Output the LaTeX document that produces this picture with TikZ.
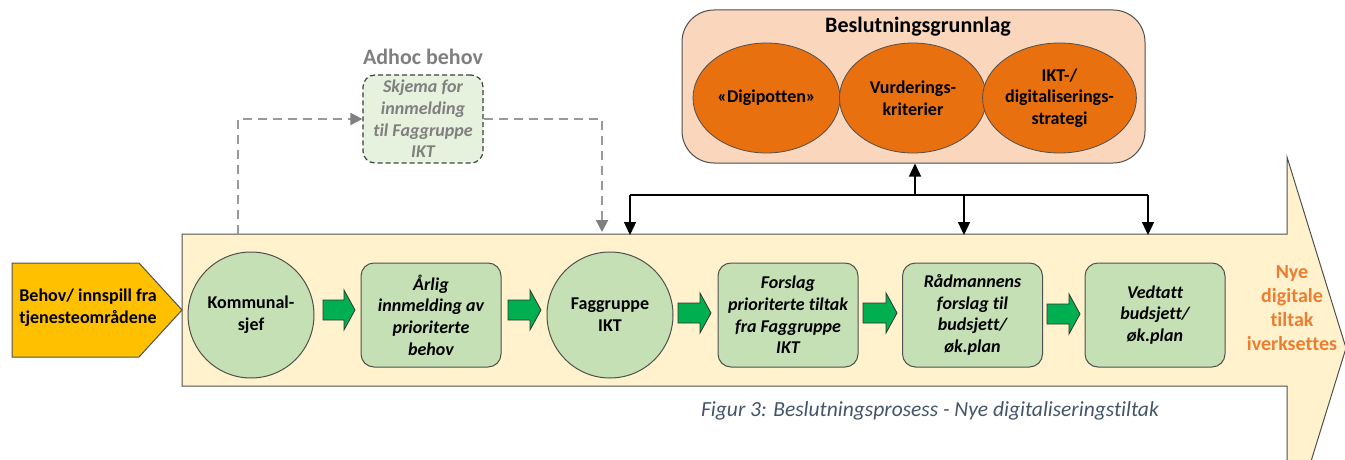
\documentclass[tikz,border=0pt]{standalone}
\usepackage{fontspec}
\setmainfont{Carlito}[Ligatures=NoCommon]
\usetikzlibrary{arrows.meta,shapes.geometric}
\definecolor{bodyfill}{HTML}{FFF2CC}
\definecolor{gfill}{HTML}{C5E0B4}
\definecolor{gline}{HTML}{505050}
\definecolor{garr}{HTML}{00B050}
\definecolor{goldc}{HTML}{FFC000}
\definecolor{peach}{HTML}{F9D6BC}
\definecolor{orng}{HTML}{E8700F}
\definecolor{orngtxt}{HTML}{ED7D31}
\definecolor{capt}{HTML}{44546A}
\definecolor{adgray}{HTML}{7F7F7F}
\definecolor{adline}{HTML}{999999}
\definecolor{adfill}{HTML}{E6F1DE}
\newcommand{\garw}[3]{\draw[garrow] (#1,#3-10) -- (#2-11,#3-10) -- (#2-11,#3-20) -- (#2,#3) -- (#2-11,#3+20) -- (#2-11,#3+10) -- (#1,#3+10) -- cycle;}
\tikzset{
  txt/.style={font=\fontsize{18}{21.7}\selectfont\bfseries, align=center, inner sep=0pt},
  gbox/.style={draw=gline, fill=gfill, rounded corners=13pt, line width=1pt, minimum width=140pt, minimum height=104pt, align=center, font=\fontsize{18}{21.7}\selectfont\bfseries\itshape, inner sep=2pt},
  gcirc/.style={circle, draw=gline, fill=gfill, line width=1pt, minimum size=126pt, align=center, font=\fontsize{18}{21.7}\selectfont\bfseries, inner sep=0pt},
  oell/.style={ellipse, draw=gline, fill=orng, line width=0.8pt, minimum width=147pt, minimum height=110pt, align=center, font=\fontsize{18}{21.7}\selectfont\bfseries, inner sep=0pt},
  garrow/.style={draw=black!80, fill=garr, line width=0.8pt},
  blk/.style={draw=black, line width=1.3pt, -{Triangle[width=12pt,length=13pt]}},
  adl/.style={draw=adline, line width=2pt, dash pattern=on 9pt off 6pt},
  adtip/.style={-{Triangle[width=12pt,length=12pt,fill=adgray,color=adgray]}},
}
\begin{document}
\begin{tikzpicture}[x=1pt,y=-1pt]
\useasboundingbox (0,0) rectangle (1345,460);
\clip (0,0) rectangle (1345,460);
% big arrow body
\draw[fill=bodyfill, draw=gline, line width=1pt] (182,234) -- (1287,234) -- (1287,157) -- (1346,348) -- (1287,539) -- (1287,386) -- (182,386) -- cycle;
\coordinate (bodytop) at (0,234);
% left pentagon
\draw[fill=goldc, draw=gline, line width=1pt] (12,263) -- (139,263) -- (182,310) -- (139,357) -- (12,357) -- cycle;
\node[txt] (behov) at (88,308) {Behov/ innspill fra\\tjenesteområdene};
% process nodes
\node[gcirc] (kom) at (251,315) {Kommunal-\\sjef};
\node[gbox] (arlig) at (431,315) {Årlig\\innmelding av\\prioriterte\\behov};
\node[gcirc] (fag) at (610,315) {Faggruppe\\IKT};
\node[gbox] (forslag) at (788,315) {Forslag\\prioriterte tiltak\\fra Faggruppe\\IKT};
\node[gbox] (rad) at (972.5,315) {Rådmannens\\forslag til\\budsjett/\\øk.plan};
\node[gbox] (vedtatt) at (1155,315) {Vedtatt\\budsjett/\\øk.plan};
\node[txt, text=orngtxt, font=\fontsize{20}{24}\selectfont\bfseries] (nye) at (1292,308) {Nye\\digitale\\tiltak\\iverksettes};
% green block arrows
\garw{323}{355}{310}
\garw{508}{541}{310}
\garw{678}{711}{313}
\garw{863}{897}{313}
\garw{1047}{1080}{314}
% decision basis
\node[draw=gline, fill=peach, rounded corners=32pt, line width=1pt, minimum width=463pt, minimum height=153pt] (grunn) at (913.5,86.5) {};
\node[txt, font=\fontsize{22}{26}\selectfont\bfseries] (grunntitle) at (918,27) {Beslutningsgrunnlag};
\node[oell] (digi) at (766.5,98) {«Digipotten»};
\node[oell] (vurd) at (913,98) {Vurderings-\\kriterier};
\node[oell] (strat) at (1059.5,98) {IKT-/\\digitaliserings-\\strategi};
% black connectors
\coordinate (hub) at (915,195);
\coordinate (bl) at (630,195);
\coordinate (bm) at (964,195);
\coordinate (br) at (1148,195);
\draw[black, line width=1.3pt] (bl) -- (br);
\draw[blk] (hub) -- (hub |- grunn.south);
\draw[blk] (bl) -- ([yshift=-1pt]bl |- bodytop);
\draw[blk] (bm) -- ([yshift=-1pt]bm |- bodytop);
\draw[blk] (br) -- ([yshift=-1pt]br |- bodytop);
% adhoc
\node[txt, text=adgray, font=\fontsize{22}{26}\selectfont\bfseries] (adtitle) at (423,57) {Adhoc behov};
\node[draw=black!75, fill=adfill, dash pattern=on 5pt off 3pt, line width=1.2pt, rounded corners=12pt, minimum width=120pt, minimum height=88pt, align=center, text=adgray, font=\fontsize{18}{21.7}\selectfont\bfseries\itshape, inner sep=0pt] (adhoc) at (423,119) {Skjema for\\innmelding\\til Faggruppe\\IKT};
\coordinate (adstart) at (238,234);
\coordinate (adend) at (602,232);
\draw[adl, adtip] (adstart) -- (238,119) -- (adhoc.west);
\draw[adl, adtip] (adhoc.east) -- (adend |- adhoc.east) -- (adend);
% caption
\node[inner sep=0pt, text=capt, font=\fontsize{21.5}{26}\selectfont\itshape] (cap) at (930,411) {Figur 3: Beslutningsprosess - Nye digitaliseringstiltak};
\end{tikzpicture}
\end{document}
